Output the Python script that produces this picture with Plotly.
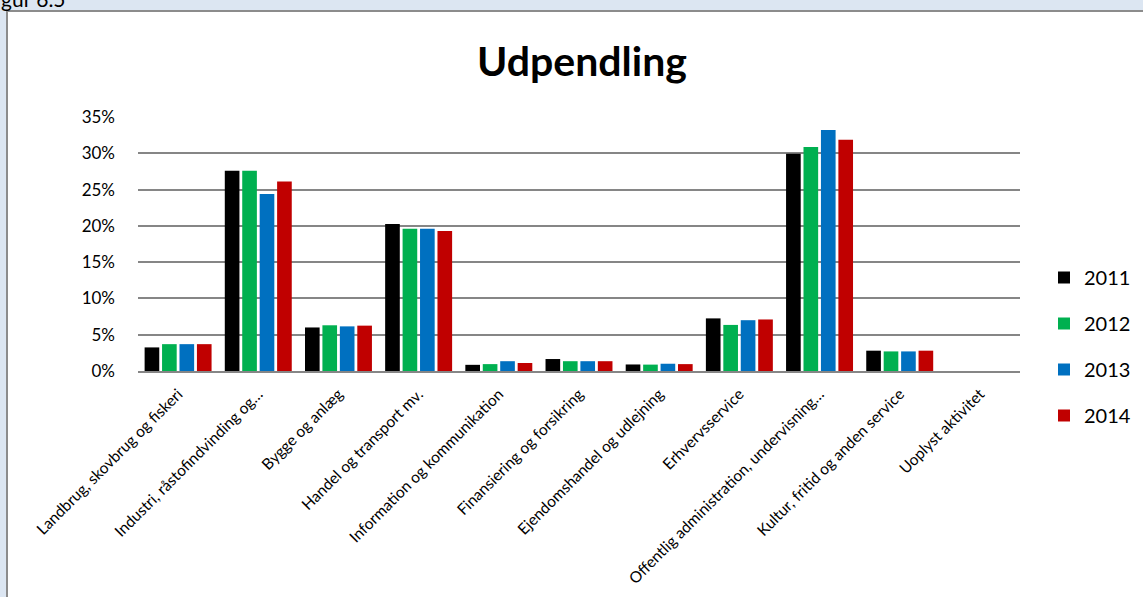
import plotly.graph_objects as go

categories = [
    "Landbrug, skovbrug og fiskeri",
    "Industri, råstofindvinding og…",
    "Bygge og anlæg",
    "Handel og transport mv.",
    "Information og kommunikation",
    "Finansiering og forsikring",
    "Ejendomshandel og udlejning",
    "Erhvervsservice",
    "Offentlig administration, undervisning…",
    "Kultur, fritid og anden service",
    "Uoplyst aktivitet",
]
years = ["2011", "2012", "2013", "2014"]
v2011 = [3.25, 27.6, 6.0, 20.25, 0.85, 1.65, 0.9, 7.25, 29.95, 2.8, 0.0]
v2012 = [3.7, 27.6, 6.3, 19.6, 0.95, 1.35, 0.88, 6.35, 30.85, 2.7, 0.0]
v2013 = [3.7, 24.4, 6.15, 19.6, 1.35, 1.35, 1.0, 7.0, 33.2, 2.7, 0.0]
v2014 = [3.7, 26.1, 6.25, 19.3, 1.1, 1.35, 0.95, 7.1, 31.85, 2.8, 0.0]
series = [v2011, v2012, v2013, v2014]
colors = ["#000000", "#00B050", "#0070C0", "#C00000"]
y_ticks = [0, 5, 10, 15, 20, 25, 30, 35]
y_tick_labels = ["0%", "5%", "10%", "15%", "20%", "25%", "30%", "35%"]

FONT = "Lato, 'Open Sans', sans-serif"

fig = go.Figure()
for i, (name, vals) in enumerate(zip(years, series)):
    fig.add_trace(go.Bar(
        x=categories, y=vals, name=name, legendgroup=name,
        marker=dict(color=colors[i], line=dict(width=0)),
    ))

L, R, T, B = 138, 123, 117, 226
W, H = 1143, 597
pw, ph = W - L - R, H - T - B

def px(x):
    return (x - L) / pw

def py(y):
    return (H - B - y) / ph

fig.update_layout(
    width=W, height=H,
    margin=dict(l=L, r=R, t=T, b=B),
    paper_bgcolor="#DCE6F2",
    plot_bgcolor="rgba(0,0,0,0)",
    barmode="group", bargap=0.13, bargroupgap=0.16,
    font=dict(family=FONT, color="#000000"),
    title=dict(text="<b>Udpendling</b>", x=(582 / W), xanchor="center", y=1 - 62 / H,
               yanchor="middle", font=dict(size=41, family=FONT, color="#000000")),
    showlegend=True,
    legend=dict(xref="container", yref="container",
                x=1044 / W, xanchor="left", y=1 - 258 / H, yanchor="top",
                font=dict(size=20, family=FONT), tracegroupgap=17,
                bgcolor="rgba(0,0,0,0)"),
    xaxis=dict(tickangle=-45, tickfont=dict(size=15.5, family=FONT),
               showgrid=False, showline=True, linecolor="#868686", linewidth=2,
               ticks="", automargin=False, ticklabelstandoff=6),
    yaxis=dict(range=[0, 35], tickvals=y_ticks, ticktext=y_tick_labels,
               tickfont=dict(size=17, family=FONT),
               showgrid=True, gridcolor="#868686", gridwidth=2,
               zeroline=False, showline=False, ticks="", ticklabelstandoff=22,
               automargin=False),
    shapes=[dict(type="rect", xref="paper", yref="paper", layer="below",
                 x0=px(7), x1=px(1160), y0=py(620), y1=py(11),
                 fillcolor="#FFFFFF", line=dict(color="#8C8C8C", width=2))],
    annotations=[dict(text="gur 6.5", xref="paper", yref="paper",
                      x=px(-1), y=py(-1), xanchor="left", yanchor="middle",
                      showarrow=False, font=dict(size=21, family=FONT, color="#000000"))],
)

fig.write_html("out.html", config={"displayModeBar": False},
               post_script="document.body.style.margin='0';document.body.style.overflow='hidden';")
